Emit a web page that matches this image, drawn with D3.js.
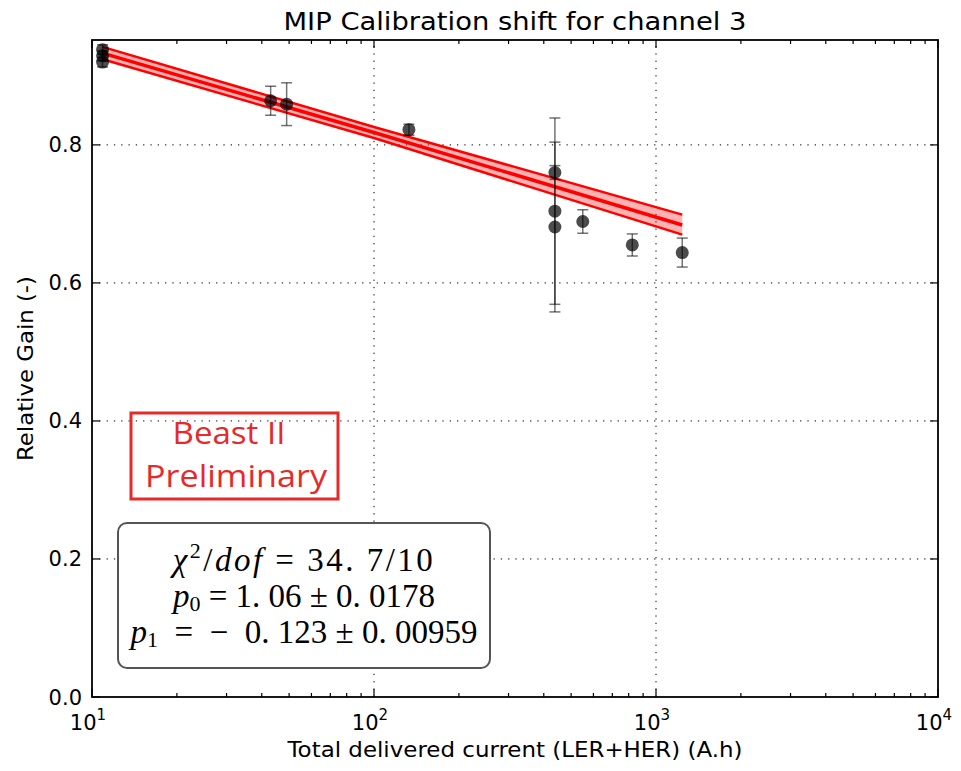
<!DOCTYPE html>
<html>
<head>
<meta charset="utf-8">
<script src="https://cdn.jsdelivr.net/npm/d3@7/dist/d3.min.js"></script>
<style>
  body { margin: 0; background: #fff; }
  svg { display: block; }
</style>
</head>
<body>
<svg id="chart" width="961" height="771"></svg>
<script>
// Data
const current = [10.9, 10.9, 10.9, 43, 49, 133, 438, 438, 438, 550, 824, 1239];
const gain    = [0.938, 0.929, 0.920, 0.864, 0.859, 0.822, 0.760, 0.704, 0.681, 0.689, 0.655, 0.644];
const gainErr = [0.007, 0.007, 0.007, 0.021, 0.031, 0.008, 0.010, 0.135, 0.123, 0.017, 0.016, 0.021];

// fit line with its uncertainty band
const fitX  = [10.9, 100, 1239];
const fitY  = [0.933, 0.818, 0.684];
const fitHi = [0.942, 0.826, 0.699];
const fitLo = [0.924, 0.810, 0.670];

const xMajor = [10, 100, 1000, 10000];
const yTicks = [0.0, 0.2, 0.4, 0.6, 0.8];

const title = "MIP Calibration shift for channel 3";
const xLabel = "Total delivered current (LER+HER) (A.h)";
const yLabel = "Relative Gain (-)";

const svg = d3.select("#chart");
const margin = { left: 92, right: 23, top: 40, bottom: 74 };
const W = 961, H = 771;

const x = d3.scaleLog().domain([10, 10000]).range([margin.left, W - margin.right]);
const y = d3.scaleLinear().domain([0, 0.952]).range([H - margin.bottom, margin.top]);

const x0 = x.range()[0], x1 = x.range()[1];
const y0 = y.range()[0], y1 = y.range()[1];

// grid
const grid = svg.append("g").attr("stroke", "#000").attr("stroke-width", 1)
  .attr("stroke-dasharray", "1.3,6");
grid.selectAll(".gx").data(xMajor.slice(1, -1)).enter().append("line")
  .attr("x1", d => x(d)).attr("x2", d => x(d)).attr("y1", y0).attr("y2", y1);
grid.selectAll(".gy").data(yTicks.slice(1)).enter().append("line")
  .attr("x1", x0).attr("x2", x1).attr("y1", d => y(d)).attr("y2", d => y(d));

// fit band
const bandData = fitX.map((v, i) => ({ x: v, lo: fitLo[i], hi: fitHi[i], m: fitY[i] }));
svg.append("path").datum(bandData)
  .attr("fill", "#ff0000").attr("fill-opacity", 0.3)
  .attr("d", d3.area().x(d => x(d.x)).y0(d => y(d.lo)).y1(d => y(d.hi)));
["lo", "hi"].forEach(k => {
  svg.append("path").datum(bandData)
    .attr("fill", "none").attr("stroke", "#ff0000").attr("stroke-width", 2.5)
    .attr("d", d3.line().x(d => x(d.x)).y(d => y(d[k])));
});
svg.append("path").datum(bandData)
  .attr("fill", "none").attr("stroke", "#ff0000").attr("stroke-width", 3.5)
  .attr("d", d3.line().x(d => x(d.x)).y(d => y(d.m)));

// error bars
const pts = current.map((c, i) => ({ c: c, g: gain[i], e: gainErr[i] }));
const eb = svg.append("g").attr("stroke", "#000").attr("stroke-opacity", 0.55).attr("stroke-width", 1.5);
pts.forEach(p => {
  const px = x(p.c);
  eb.append("line").attr("x1", px).attr("x2", px).attr("y1", y(p.g - p.e)).attr("y2", y(p.g + p.e));
  [p.g - p.e, p.g + p.e].forEach(v => {
    eb.append("line").attr("x1", px - 5.5).attr("x2", px + 5.5).attr("y1", y(v)).attr("y2", y(v));
  });
});

// points
svg.append("g").selectAll("circle").data(pts).enter().append("circle")
  .attr("cx", d => x(d.c)).attr("cy", d => y(d.g)).attr("r", 6.5)
  .attr("fill", "#000").attr("fill-opacity", 0.7);

// "Beast II Preliminary" stamp
const stamp = svg.append("g");
stamp.append("rect").attr("x", 131).attr("y", 413).attr("width", 207).attr("height", 86)
  .attr("fill", "none").attr("stroke", "#e62a2a").attr("stroke-width", 3);
stamp.append("text").attr("x", 229).attr("y", 444).attr("text-anchor", "middle")
  .attr("font-family", "'Open Sans', sans-serif").attr("font-size", 31).attr("fill", "#e62a2a")
  .attr("textLength", 113).attr("lengthAdjust", "spacingAndGlyphs")
  .text("Beast II");
stamp.append("text").attr("x", 236).attr("y", 487).attr("text-anchor", "middle")
  .attr("font-family", "'Open Sans', sans-serif").attr("font-size", 31).attr("fill", "#e62a2a")
  .attr("textLength", 182).attr("lengthAdjust", "spacingAndGlyphs")
  .text("Preliminary");

// fit results box
const box = svg.append("g");
box.append("rect").attr("x", 118).attr("y", 523).attr("width", 372).attr("height", 145)
  .attr("rx", 9).attr("fill", "#fff").attr("stroke", "#555").attr("stroke-width", 2);

const mathLines = [
  { y: 571, ls: 2.5, parts: [["χ", "i"], ["2", "sup"], ["/", ""], ["dof", "i"], [" = 34. 7/10", ""]] },
  { y: 607, ls: 0, parts: [["p", "i"], ["0", "sub"], [" = 1. 06 ± 0. 0178", ""]] },
  { y: 643, ls: 0, parts: [["p", "i"], ["1", "sub"], ["  =  −  0. 123 ± 0. 00959", ""]] }
];
mathLines.forEach(l => {
  const t = box.append("text").attr("x", 304).attr("y", l.y).attr("text-anchor", "middle")
    .attr("font-family", "'Liberation Serif', 'DejaVu Serif', serif").attr("font-size", 33)
    .attr("letter-spacing", l.ls)
    .attr("fill", "#000").style("white-space", "pre");
  let shift = 0;
  l.parts.forEach(p => {
    const target = p[1] === "sup" ? -13 : p[1] === "sub" ? 4 : 0;
    const s = t.append("tspan").attr("dy", target - shift).text(p[0]);
    shift = target;
    if (p[1] === "i") s.attr("font-style", "italic");
    if (p[1] === "sup" || p[1] === "sub") s.attr("font-size", 22);
  });
});

// spines
svg.append("rect").attr("x", x0).attr("y", y1).attr("width", x1 - x0).attr("height", y0 - y1)
  .attr("fill", "none").attr("stroke", "#000").attr("stroke-width", 1.8);

// ticks (inside, on all four sides)
const xMinor = [];
xMajor.slice(0, -1).forEach(d => { for (let k = 2; k <= 9; k++) xMinor.push(d * k); });
const tk = svg.append("g").attr("stroke", "#000").attr("stroke-width", 1.2);
xMajor.forEach(d => {
  tk.append("line").attr("x1", x(d)).attr("x2", x(d)).attr("y1", y0).attr("y2", y0 - 8);
  tk.append("line").attr("x1", x(d)).attr("x2", x(d)).attr("y1", y1).attr("y2", y1 + 8);
});
xMinor.forEach(d => {
  tk.append("line").attr("x1", x(d)).attr("x2", x(d)).attr("y1", y0).attr("y2", y0 - 4);
  tk.append("line").attr("x1", x(d)).attr("x2", x(d)).attr("y1", y1).attr("y2", y1 + 4);
});
yTicks.forEach(d => {
  tk.append("line").attr("x1", x0).attr("x2", x0 + 8).attr("y1", y(d)).attr("y2", y(d));
  tk.append("line").attr("x1", x1).attr("x2", x1 - 8).attr("y1", y(d)).attr("y2", y(d));
});

const font = "'DejaVu Sans', sans-serif";

// y tick labels
svg.append("g").selectAll("text").data(yTicks).enter().append("text")
  .attr("x", x0 - 10).attr("y", d => y(d) + 7.5).attr("text-anchor", "end")
  .attr("font-family", font).attr("font-size", 21).attr("fill", "#000")
  .text(d => d3.format(".1f")(d));

// x tick labels 10^n
const xl = svg.append("g").selectAll("text").data(xMajor).enter().append("text")
  .attr("x", d => x(d) - 4).attr("y", y0 + 33).attr("text-anchor", "middle")
  .attr("font-family", font).attr("font-size", 21).attr("fill", "#000");
xl.append("tspan").text("10");
xl.append("tspan").attr("dy", -10).attr("font-size", 15).text(d => Math.round(Math.log10(d)));

// title and axis labels
svg.append("text").attr("x", (x0 + x1) / 2).attr("y", 30).attr("text-anchor", "middle")
  .attr("font-family", font).attr("font-size", 25).attr("fill", "#000")
  .attr("textLength", 463).attr("lengthAdjust", "spacingAndGlyphs")
  .text(title);
svg.append("text").attr("x", (x0 + x1) / 2).attr("y", 757).attr("text-anchor", "middle")
  .attr("font-family", font).attr("font-size", 21).attr("fill", "#000")
  .attr("textLength", 455).attr("lengthAdjust", "spacingAndGlyphs")
  .text(xLabel);
svg.append("text").attr("transform", `translate(33,${(y0 + y1) / 2}) rotate(-90)`)
  .attr("text-anchor", "middle")
  .attr("font-family", font).attr("font-size", 21).attr("fill", "#000")
  .attr("textLength", 185).attr("lengthAdjust", "spacingAndGlyphs")
  .text(yLabel);
</script>
</body>
</html>
